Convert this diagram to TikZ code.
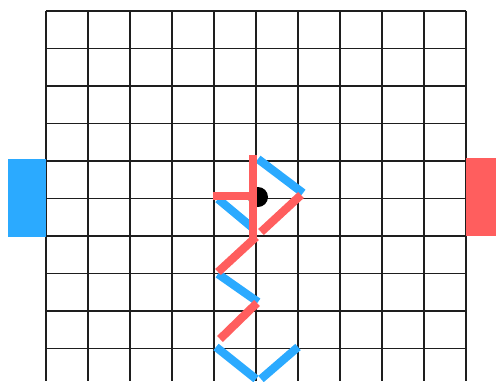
\documentclass[tikz,border=0pt]{standalone}
\definecolor{board}{RGB}{30,30,30}
\definecolor{blueside}{RGB}{43,170,255}
\definecolor{redside}{RGB}{255,94,94}

\begin{document}
\begin{tikzpicture}[
  x=1pt,y=-1pt,
  gridline/.style={draw=board, line width=1.1pt},
  bluelink/.style={draw=blueside, line width=8.3pt},
  redlink/.style={draw=redside, line width=8.3pt},
  goal/.style={draw=none, inner sep=0pt, minimum width=38pt,
               minimum height=78pt}
]
\useasboundingbox (0,0) rectangle (496,381);

% Board: ten columns, rows run off the bottom edge.
\foreach \gx in {46,88,130,172,214,256,298,340,382,424,466}
  \draw[gridline] (\gx,11) -- (\gx,381);
\foreach \gy in {11,48.5,86,123.5,161,198.5,236,273.5,311,348.5}
  \draw[gridline] (46,\gy) -- (466,\gy);

% Goals on either side.
\node[goal, fill=blueside, anchor=north east] (goalL) at (46,159) {};
\node[goal, fill=redside, anchor=north west, minimum width=32pt]
  (goalR) at (466,158) {};

% Ball.
\node[circle, fill=black, minimum size=20pt, inner sep=0pt] (ball)
  at (258,197) {};

% Blue links.
\draw[bluelink] (258,159) -- (303,193);
\draw[bluelink] (218,199) -- (254,229);
\draw[bluelink] (218,274) -- (258,302);
\draw[bluelink] (216,347) -- (256,379);
\draw[bluelink] (261,379) -- (298,347);

% Red links.
\draw[redlink] (253,155) -- (253,239);
\draw[redlink] (213,196) -- (253,196);
\draw[redlink] (261,232) -- (301,195);
\draw[redlink] (256,237) -- (218,272);
\draw[redlink] (257,303) -- (220,339);

\end{tikzpicture}
\end{document}
